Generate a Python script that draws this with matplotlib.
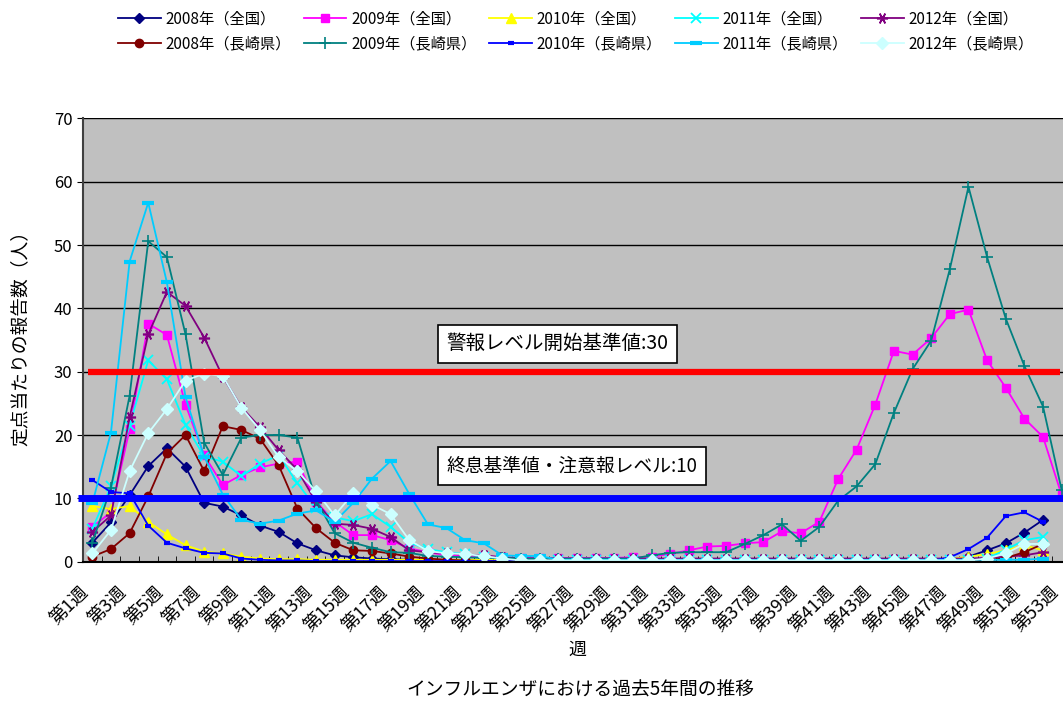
import matplotlib
matplotlib.use('Agg')
import matplotlib.pyplot as plt
import numpy as np

plt.rcParams['font.family'] = ['Noto Sans CJK JP', 'DejaVu Sans']

# Weekly influenza reports per sentinel
weeks = np.arange(1, 54)
week_labels = ['第%d週' % w for w in weeks]

zen_2008 = [3.0, 6.2, 10.5, 15.1, 17.9, 15.0, 9.3, 8.7, 7.3, 5.7, 4.7, 2.9, 1.8, 1.0, 0.7, 0.5,
            0.4, 0.3, 0.2, 0.15, 0.1, 0.1, 0.05, 0.05, 0.05, 0.05, 0.05, 0.05, 0.05, 0.05, 0.05,
            0.05, 0.05, 0.05, 0.05, 0.05, 0.05, 0.05, 0.05, 0.05, 0.05, 0.05, 0.05, 0.05, 0.05,
            0.1, 0.2, 0.8, 1.8, 2.9, 4.6, 6.6]
zen_2009 = [5.5, 7.8, 20.9, 37.6, 35.8, 24.8, 16.8, 12.1, 13.7, 14.9, 15.5, 15.8, 9.5, 6.3, 4.2,
            4.2, 3.4, 2.1, 1.5, 1.0, 0.9, 0.9, 0.7, 0.6, 0.6, 0.6, 0.6, 0.6, 0.6, 0.7, 0.8, 1.2,
            1.8, 2.4, 2.5, 2.9, 3.1, 4.8, 4.5, 6.3, 13.0, 17.7, 24.8, 33.3, 32.7, 35.3, 39.1,
            39.8, 31.8, 27.5, 22.6, 19.7, 10.5]
zen_2010 = [8.8, 8.3, 8.8, 6.3, 4.3, 2.6, 1.6, 1.3, 0.8, 0.5, 0.4, 0.4, 0.3, 0.3, 0.3, 0.3,
            0.3, 0.3, 0.3, 0.3, 0.3, 0.3, 0.2, 0.2, 0.2, 0.2, 0.2, 0.2, 0.2, 0.2, 0.2, 0.2,
            0.2, 0.2, 0.2, 0.2, 0.2, 0.2, 0.2, 0.2, 0.2, 0.2, 0.2, 0.2, 0.3, 0.3, 0.4, 0.8,
            1.2, 1.8, 2.6, 1.8]
zen_2011 = [5.2, 11.9, 21.5, 31.8, 28.8, 21.6, 16.6, 15.8, 13.5, 15.5, 16.8, 12.4, 8.5, 7.0,
            6.4, 7.5, 5.5, 3.0, 2.0, 1.5, 1.2, 0.8, 0.5, 0.3, 0.2, 0.2, 0.2, 0.2, 0.2, 0.2,
            0.2, 0.2, 0.2, 0.2, 0.2, 0.2, 0.2, 0.2, 0.2, 0.2, 0.2, 0.2, 0.2, 0.2, 0.2, 0.2,
            0.2, 0.3, 0.5, 1.9, 3.4, 3.9]
zen_2012 = [4.7, 7.3, 22.8, 35.9, 42.6, 40.4, 35.4, 29.2, 24.4, 21.2, 17.6, 14.5, 9.4, 6.0,
            5.8, 5.2, 3.9, 1.8, 1.5, 1.3, 1.1, 1.0, 0.7, 0.5, 0.5, 0.5, 0.5, 0.5, 0.5, 0.5,
            0.5, 0.5, 0.5, 0.5, 0.5, 0.5, 0.5, 0.5, 0.5, 0.5, 0.5, 0.5, 0.5, 0.5, 0.5, 0.5,
            0.5, 0.5, 0.6, 0.8, 1.0, 1.5]
nag_2008 = [0.8, 2.0, 4.5, 10.3, 17.1, 20.0, 14.3, 21.4, 20.8, 19.4, 15.2, 8.4, 5.3, 3.0,
            1.8, 1.7, 1.3, 0.8, 0.5, 0.3, 0.2, 0.1, 0.1, 0.0, 0.0, 0.0, 0.0, 0.0, 0.0, 0.0,
            0.0, 0.0, 0.0, 0.0, 0.0, 0.0, 0.0, 0.0, 0.0, 0.0, 0.0, 0.0, 0.0, 0.0, 0.0, 0.0,
            0.0, 0.1, 0.2, 0.6, 1.5, 2.8]
nag_2009 = [3.0, 11.7, 26.2, 50.6, 48.1, 35.9, 18.8, 13.7, 19.6, 20.0, 20.0, 19.6, 9.7, 4.5,
            3.0, 2.2, 1.5, 1.4, 0.9, 0.8, 0.7, 0.6, 0.6, 0.5, 0.5, 0.5, 0.5, 0.5, 0.5, 0.5,
            1.0, 1.4, 1.5, 1.5, 1.5, 2.8, 4.2, 5.9, 3.3, 5.5, 9.6, 11.9, 15.4, 23.5, 30.4,
            34.9, 46.2, 59.2, 48.1, 38.4, 30.9, 24.5, 11.3]
nag_2010 = [12.9, 11.0, 10.8, 5.7, 3.0, 2.1, 1.4, 1.3, 0.5, 0.3, 0.2, 0.2, 0.1, 0.1, 0.1,
            0.1, 0.1, 0.1, 0.1, 0.1, 0.1, 0.1, 0.1, 0.1, 0.1, 0.1, 0.1, 0.1, 0.1, 0.1, 0.1,
            0.1, 0.1, 0.1, 0.1, 0.1, 0.1, 0.1, 0.1, 0.1, 0.1, 0.1, 0.1, 0.1, 0.1, 0.1, 0.7,
            2.0, 3.8, 7.2, 7.8, 6.3]
nag_2011 = [9.2, 20.4, 47.4, 56.7, 44.1, 26.0, 16.6, 10.6, 6.6, 6.0, 6.5, 7.6, 8.1, 6.3,
            9.3, 13.1, 15.9, 10.7, 5.9, 5.3, 3.4, 2.9, 1.0, 0.9, 0.9, 0.3, 0.3, 0.3, 0.3, 0.3,
            0.3, 0.3, 0.3, 0.3, 0.3, 0.3, 0.3, 0.3, 0.3, 0.3, 0.3, 0.3, 0.3, 0.3, 0.3, 0.3,
            0.3, 0.3, 0.3, 0.3, 0.3, 0.5]
nag_2012 = [1.3, 5.0, 14.3, 20.3, 24.1, 28.6, 29.7, 29.3, 24.3, 20.8, 16.5, 14.3, 11.1, 7.3,
            10.8, 9.0, 7.5, 3.4, 1.7, 1.3, 1.2, 0.9, 0.5, 0.2, 0.2, 0.2, 0.2, 0.2, 0.2, 0.2,
            0.2, 0.2, 0.2, 0.2, 0.2, 0.2, 0.2, 0.2, 0.2, 0.2, 0.2, 0.2, 0.2, 0.2, 0.2, 0.2,
            0.2, 0.2, 0.5, 1.3, 2.8, 2.8]

alarm_level = 30
end_level = 10

series = [
    ('2008年（全国）', zen_2008, '#000080', dict(marker='D', ms=5)),
    ('2009年（全国）', zen_2009, '#FF00FF', dict(marker='s', ms=6)),
    ('2010年（全国）', zen_2010, '#FFFF00', dict(marker='^', ms=6.5)),
    ('2011年（全国）', zen_2011, '#00FFFF', dict(marker='x', ms=6.5, mew=1.3)),
    ('2012年（全国）', zen_2012, '#800080', dict(marker=(6, 2, 90), ms=8, mew=1.2)),
    ('2008年（長崎県）', nag_2008, '#800000', dict(marker='o', ms=6)),
    ('2009年（長崎県）', nag_2009, '#008080', dict(marker='+', ms=8, mew=1.2)),
    ('2010年（長崎県）', nag_2010, '#0000FF', dict(marker='_', ms=5, mew=3)),
    ('2011年（長崎県）', nag_2011, '#00CCFF', dict(marker='_', ms=8, mew=3)),
    ('2012年（長崎県）', nag_2012, '#CCFFFF', dict(marker='D', ms=6)),
]

fig = plt.figure(figsize=(10.63, 7.02), dpi=100)
ax = fig.add_axes([83 / 1063, 1 - 561.7 / 702, 988 / 1063, (561.7 - 118.4) / 702])
ax.set_facecolor('#C0C0C0')

handles = []
for name, vals, col, mk in series:
    h, = ax.plot(weeks[:len(vals)], vals, color=col, lw=1.3, label=name,
                 mfc=col, mec=col, **mk)
    handles.append(h)

# threshold lines
ax.plot([0.77, 52.9], [alarm_level, alarm_level], color='#FF0000', lw=4.5,
        solid_capstyle='butt', zorder=5, clip_on=False)
ax.plot([0.25, 54.5], [end_level, end_level], color='#0000FF', lw=5,
        solid_capstyle='butt', zorder=5, clip_on=False)

ax.text(20.0, 34.4, '警報レベル開始基準値:30', fontsize=14, va='center', zorder=6,
        bbox=dict(boxstyle='square,pad=0.45', fc='white', ec='black', lw=1.2))
ax.text(20.0, 15.1, '終息基準値・注意報レベル:10', fontsize=13.5, va='center', zorder=6,
        bbox=dict(boxstyle='square,pad=0.45', fc='white', ec='black', lw=1.2))

ax.set_xlim(0.5, 53.5)
ax.set_ylim(0, 70)
ax.set_yticks(np.arange(0, 71, 10))
ax.yaxis.grid(True, color='black', lw=1)
ax.set_axisbelow(True)
ax.set_xticks(weeks[::2])
ax.set_xticklabels(week_labels[::2], rotation=45, ha='right', fontsize=13)
ax.set_xticks(np.arange(1.5, 53, 1), minor=True)
ax.tick_params(axis='x', which='major', length=0, pad=15)
ax.tick_params(axis='x', which='minor', direction='in', length=4)
ax.tick_params(axis='y', length=4, labelsize=12)
for s in ['top', 'right']:
    ax.spines[s].set_visible(False)
ax.spines['left'].set_color('#404040')
ax.spines['left'].set_linewidth(1.5)
ax.spines['bottom'].set_linewidth(1.5)

fig.text(20 / 1063, 1 - 333 / 702, '定点当たりの報告数（人）', fontsize=13.5, rotation=90,
         ha='center', va='center')
fig.text(577 / 1063, 1 - 650 / 702, '週', fontsize=13, ha='center', va='center')
fig.text(580 / 1063, 1 - 690 / 702, 'インフルエンザにおける過去5年間の推移', fontsize=13.5,
         ha='center', va='center')

# legend: row-major order like the original
order = [0, 5, 1, 6, 2, 7, 3, 8, 4, 9]
fig.legend([handles[i] for i in order], [series[i][0] for i in order],
           ncol=5, loc='upper left', bbox_to_anchor=(104 / 1063, 1.005),
           frameon=False, fontsize=11, handlelength=2.8, handletextpad=0.3,
           columnspacing=0.85, labelspacing=0.55)

fig.savefig('out.png', dpi=100)
